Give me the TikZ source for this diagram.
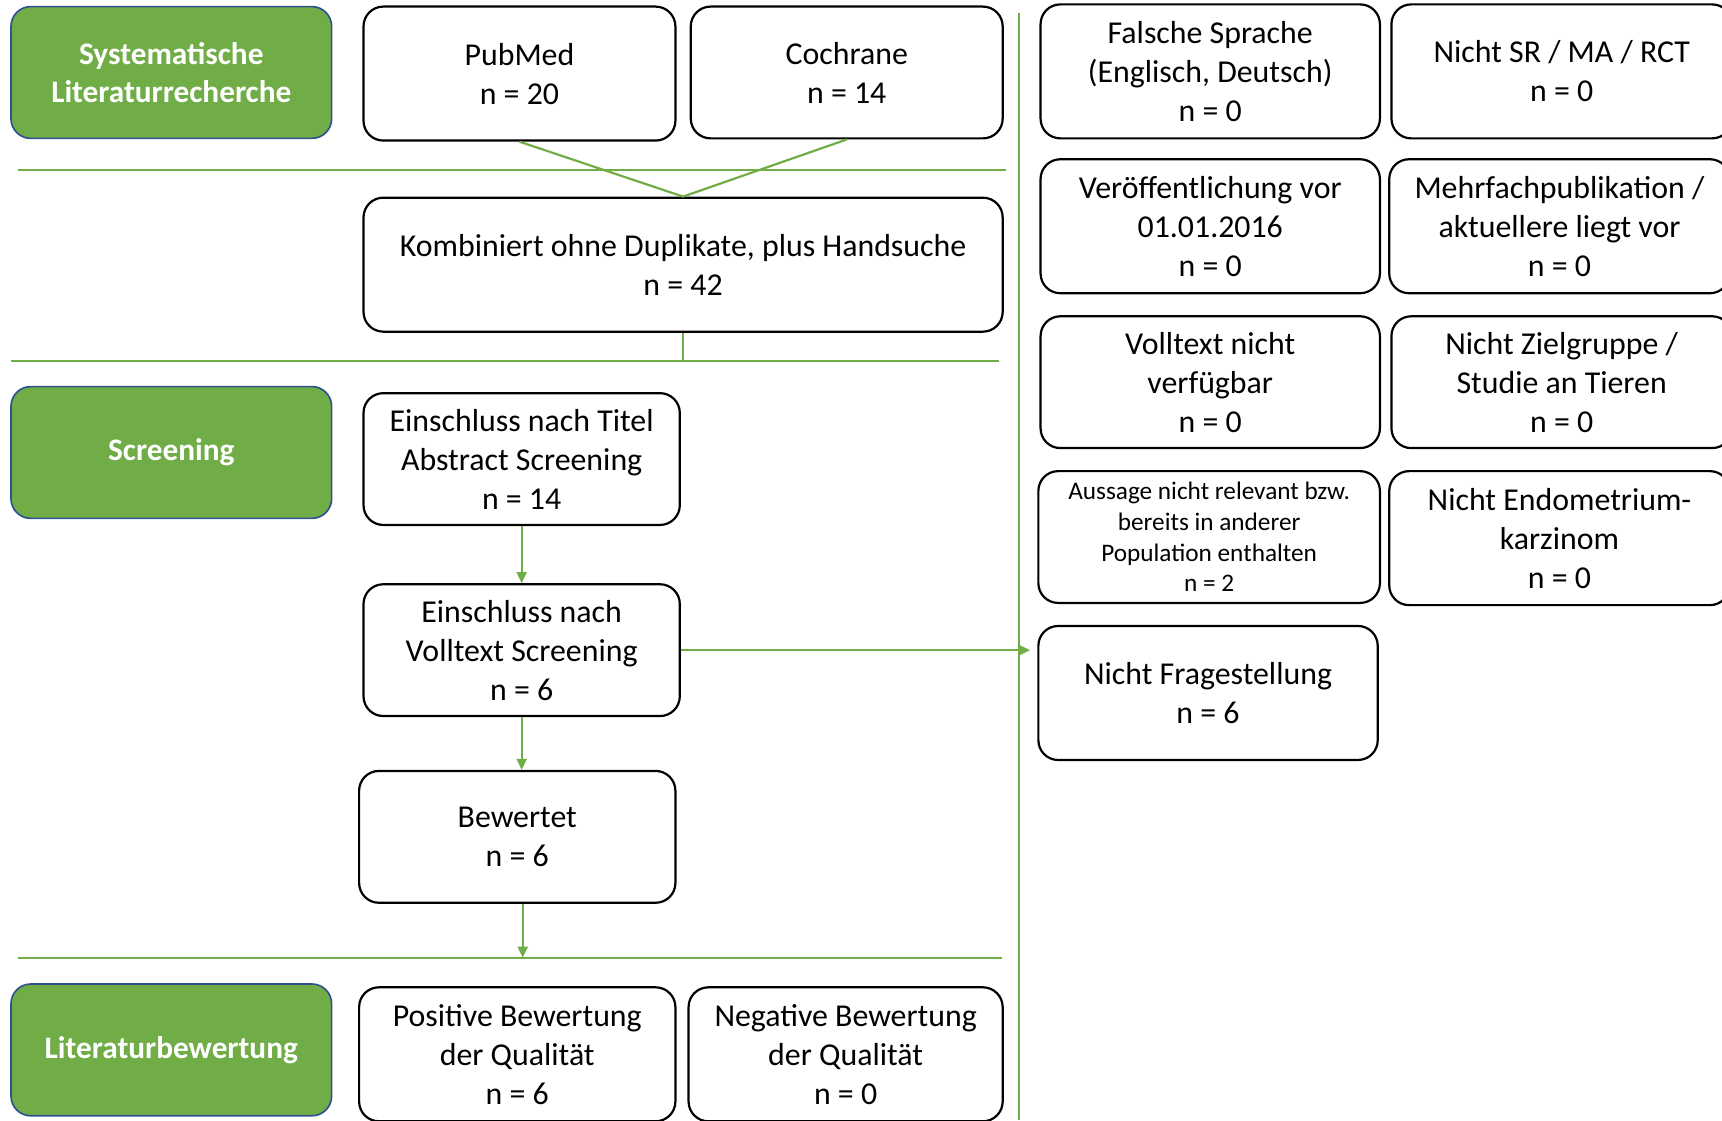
\documentclass[tikz,border=0pt]{standalone}
\usepackage{fontspec}
\setmainfont{Carlito}
\usetikzlibrary{arrows.meta}
\definecolor{stepgreen}{HTML}{70AD47}
\definecolor{stepblue}{HTML}{2F528F}
\tikzset{
    phase/.style={draw=stepblue, line width=1.5pt, fill=stepgreen, rounded corners=18pt,
        text=white, align=center, font=\fontsize{28.5}{35}\selectfont\bfseries},
    box/.style={draw=black, line width=2pt, fill=white, rounded corners=18pt,
        align=center, font=\fontsize{29}{35.5}\selectfont},
    flow/.style={draw=stepgreen, line width=2pt},
    flowarrow/.style={flow, -{Triangle[length=10pt,width=9pt]}}
}
\begin{document}
\begin{tikzpicture}[x=1pt, y=-1pt]
    \useasboundingbox (0,0) rectangle (1568,1020);

    \node[phase, minimum width=292pt, minimum height=120pt] (search) at (156,66) {Systematische\\Literaturrecherche};
    \node[phase, minimum width=292pt, minimum height=120pt] (screen) at (156,412) {Screening};
    \node[phase, minimum width=292pt, minimum height=120pt] (rating) at (156,956) {Literaturbewertung};

    \node[box, minimum width=284pt, minimum height=122pt] (pubmed) at (473,67) {PubMed\\n = 20};
    \node[box, minimum width=284pt, minimum height=120pt] (cochrane) at (771,66) {Cochrane\\n = 14};
    \node[box, minimum width=582pt, minimum height=122pt] (combined) at (622,241) {Kombiniert ohne Duplikate, plus Handsuche\\n = 42};
    \node[box, minimum width=288pt, minimum height=120pt] (title) at (475,418) {Einschluss nach Titel\\Abstract Screening\\n = 14};
    \node[box, minimum width=288pt, minimum height=120pt] (fulltext) at (475,592) {Einschluss nach\\Volltext Screening\\n = 6};
    \node[box, minimum width=288pt, minimum height=120pt] (rated) at (471,762) {Bewertet\\n = 6};
    \node[box, minimum width=288pt, minimum height=122pt] (positive) at (471,960) {Positive Bewertung\\der Qualität\\n = 6};
    \node[box, minimum width=286pt, minimum height=122pt] (negative) at (770,960) {Negative Bewertung\\der Qualität\\n = 0};

    \node[box, minimum width=309pt, minimum height=122pt] (language) at (1102,65) {Falsche Sprache\\(Englisch, Deutsch)\\n = 0};
    \node[box, minimum width=310pt, minimum height=122pt] (design) at (1422,65) {Nicht SR / MA / RCT\\n = 0};
    \node[box, minimum width=309pt, minimum height=122pt] (date) at (1102,206) {Veröffentlichung vor\\01.01.2016\\n = 0};
    \node[box, minimum width=310pt, minimum height=122pt] (multiple) at (1420,206) {Mehrfachpublikation /\\aktuellere liegt vor\\n = 0};
    \node[box, minimum width=309pt, minimum height=120pt] (unavailable) at (1102,348) {Volltext nicht\\verfügbar\\n = 0};
    \node[box, minimum width=310pt, minimum height=120pt] (target) at (1422,348) {Nicht Zielgruppe /\\Studie an Tieren\\n = 0};
    \node[box, minimum width=311pt, minimum height=120pt, font=\fontsize{23}{28}\selectfont] (relevance) at (1101,489) {Aussage nicht relevant bzw.\\bereits in anderer\\Population enthalten\\n = 2};
    \node[box, minimum width=310pt, minimum height=122pt] (cancer) at (1420,490) {Nicht Endometrium-\\karzinom\\n = 0};
    \node[box, minimum width=309pt, minimum height=122pt] (question) at (1100,631) {Nicht Fragestellung\\n = 6};

    \coordinate (sepA-w) at (16,155);
    \coordinate (sepA-e) at (916,155);
    \coordinate (sepB-w) at (10,329);
    \coordinate (sepB-e) at (910,329);
    \coordinate (sepC-w) at (16,872);
    \coordinate (sepC-e) at (912,872);
    \coordinate (split-n) at (928,12);
    \coordinate (split-s) at (928,1020);
    \coordinate (excluded) at (938,592);

    \draw[flow] (sepA-w) -- (sepA-e);
    \draw[flow] (sepB-w) -- (sepB-e);
    \draw[flow] (sepC-w) -- (sepC-e);
    \draw[flow] (split-n) -- (split-s);

    \draw[flow] (pubmed.south) -- (combined.north);
    \draw[flow] (cochrane.south) -- (combined.north);
    \draw[flow] (combined.south) -- (combined.south |- sepB-w);
    \draw[flowarrow] (title.south) -- (fulltext.north);
    \draw[flowarrow] (fulltext.south) -- (fulltext.south |- rated.north);
    \draw[flowarrow] ([xshift=5pt]rated.south) -- ([xshift=5pt]rated.south |- sepC-w);
    \draw[flowarrow] (fulltext.east) -- (excluded);
\end{tikzpicture}
\end{document}
